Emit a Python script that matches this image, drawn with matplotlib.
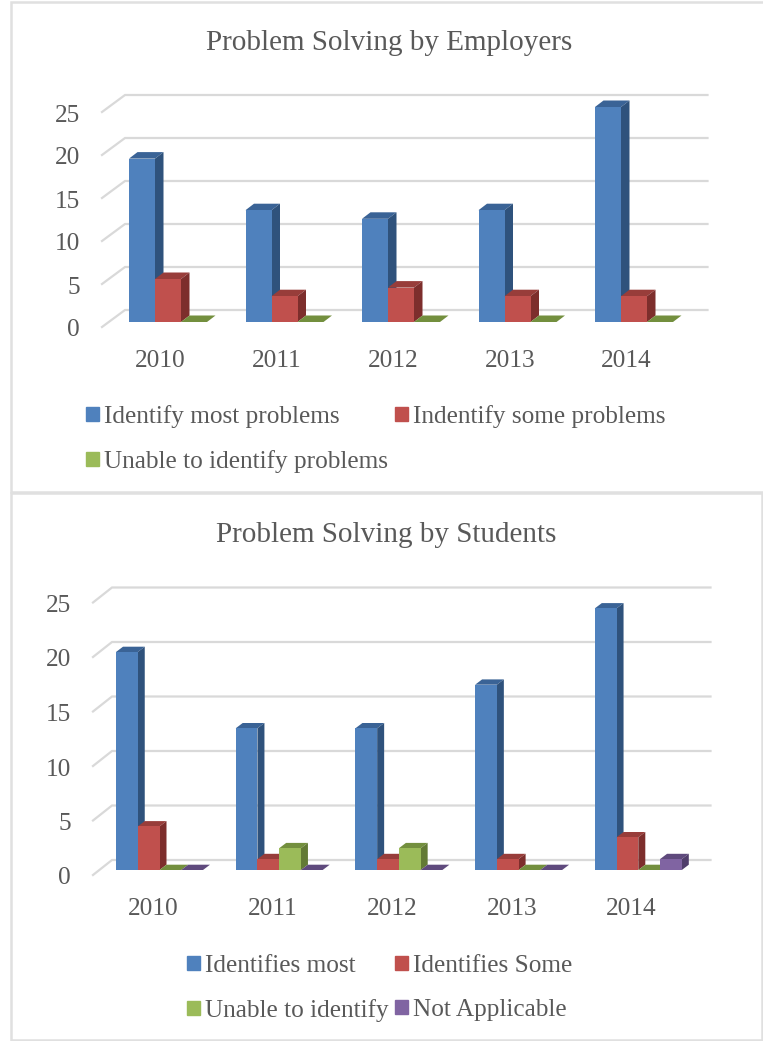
import matplotlib
matplotlib.use("Agg")
import matplotlib.pyplot as plt
from matplotlib.patches import Patch, Rectangle
from matplotlib.transforms import ScaledTranslation
import numpy as np

plt.rcParams["font.family"] = ["Liberation Serif", "DejaVu Serif"]

years = ["2010", "2011", "2012", "2013", "2014"]
y_ticks = [0, 5, 10, 15, 20, 25]

employer_most = [19, 13, 12, 13, 25]
employer_some = [5, 3, 4, 3, 3]
employer_unable = [0, 0, 0, 0, 0]
employer_labels = ["Identify most problems", "Indentify some problems", "Unable to identify problems"]

student_most = [20, 13, 13, 17, 24]
student_some = [4, 1, 1, 1, 3]
student_unable = [0, 2, 2, 0, 0]
student_na = [0, 0, 0, 0, 1]
student_labels = ["Identifies most", "Identifies Some", "Unable to identify", "Not Applicable"]

# front, top and side shades per series
BLUE = ("#4f81bd", "#3a6396", "#2f527c")
RED = ("#c0504d", "#983d3a", "#7d2e2c")
GREEN = ("#9bbb59", "#738f3e", "#637a35")
PURPLE = ("#8064a2", "#5f4a7d", "#503d6b")

GRID = "#d9d9d9"
BORDER = "#e0e0e0"
TEXT = "#595959"
W, H = 763, 1041
fig = plt.figure(figsize=(W / 100, H / 100), dpi=100, facecolor="white")


def px_axes(left, right, top, bottom):
    return fig.add_axes([left / W, 1 - bottom / H, (right - left) / W, (bottom - top) / H])


def panel(left, right, top, bottom):
    fig.add_artist(Rectangle((left / W, 1 - bottom / H), (right - left) / W, (bottom - top) / H,
                             transform=fig.transFigure, fc="white", ec=BORDER, lw=1.8, zorder=-1))


def draw_chart(ax, series, colors, labels, legend_order, wall, bar, title, title_xy, legend_xy):
    # everything in px is turned into data units from the axes box
    box = ax.get_position()
    px_x = (len(years)) / (box.width * W)
    px_y = 25 / (box.height * H)
    ax.set_xlim(-0.5, len(years) - 0.5)
    ax.set_ylim(0, 25)
    ax.patch.set_visible(False)
    for s in ax.spines.values():
        s.set_visible(False)

    wall_dx, wall_dy, wall_drop = wall
    for v in y_ticks:
        y0 = v - wall_drop * px_y
        x0 = -0.5
        x1 = x0 + wall_dx * px_x
        y1 = y0 + wall_dy * px_y
        ax.plot([x0, x1, len(years) - 0.5 + wall_dx * px_x], [y0, y1, y1], color=GRID, lw=1.6,
                clip_on=False, zorder=1, solid_joinstyle="miter")

    left_off, bw, dx, dy = bar
    bw *= px_x
    dx *= px_x
    dy *= px_y
    x = np.arange(len(years))
    for i in range(len(years)):
        for j, vals in enumerate(series):
            xl = x[i] + left_off * px_x + j * bw
            v = vals[i]
            front, top, side = colors[j]
            ax.fill([xl, xl + dx, xl + bw + dx, xl + bw], [v, v + dy, v + dy, v], color=top, lw=0, clip_on=False, zorder=2 + j)
            if v > 0:
                ax.fill([xl + bw, xl + bw + dx, xl + bw + dx, xl + bw], [0, dy, v + dy, v], color=side, lw=0, clip_on=False, zorder=2 + j)
                ax.bar(xl, v, bw, align="edge", color=front, lw=0, clip_on=False, zorder=2 + j)

    ax.set_xticks(x, years)
    ax.set_yticks(y_ticks, [str(t) for t in y_ticks])
    ax.tick_params(length=0, labelsize=18.3, labelcolor=TEXT)
    ax.tick_params(axis="x", pad=20)
    ax.tick_params(axis="y", pad=16)
    shift = ScaledTranslation(0, -(wall_drop + 1) / 100, fig.dpi_scale_trans)
    for lab in ax.get_yticklabels():
        lab.set_transform(lab.get_transform() + shift)

    fig.text(title_xy[0] / W, 1 - title_xy[1] / H, title, ha="center", va="center", color=TEXT, fontsize=21)
    handles = [Patch(color=colors[j][0], label=labels[j]) for j in legend_order]
    ax.legend(handles=handles, ncols=2, frameon=False, fontsize=18.2, loc="upper left",
              bbox_to_anchor=(legend_xy[0] / W, 1 - legend_xy[1] / H), bbox_transform=fig.transFigure,
              handlelength=0.51, handleheight=0.51, handletextpad=0.2, columnspacing=0.27,
              labelspacing=0.87, borderpad=0, borderaxespad=0, labelcolor=TEXT)


panel(11, 765, 2, 492)
panel(11, 761.5, 493, 1040)

ax1 = px_axes(102, 684.5, 107, 322)
draw_chart(ax1, [employer_most, employer_some, employer_unable], [BLUE, RED, GREEN], employer_labels,
           [0, 2, 1], (23, 17, 5), (-31.25, 26, 8.5, 6.5), "Problem Solving by Employers", (389, 43), (86, 405))

ax2 = px_axes(93, 691.5, 597.5, 870)
draw_chart(ax2, [student_most, student_some, student_unable, student_na], [BLUE, RED, GREEN, PURPLE], student_labels,
           [0, 2, 1, 3], (19, 15, 5), (-36.85, 21.75, 7, 5.3), "Problem Solving by Students", (386, 535), (187, 955))

fig.savefig("out.png", dpi=100)
